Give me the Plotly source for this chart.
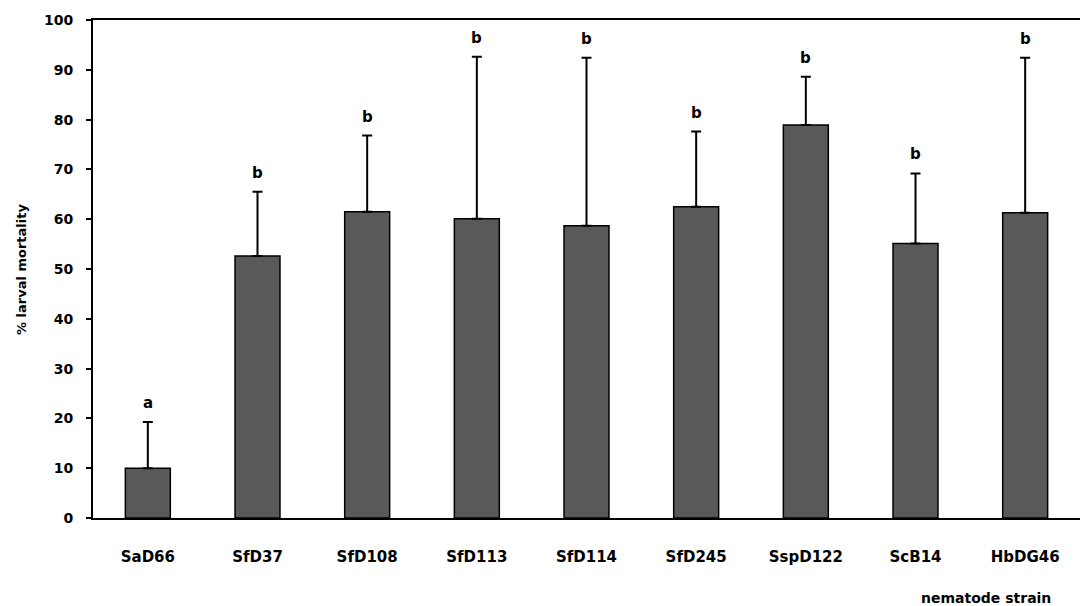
import plotly.graph_objects as go

# Larval mortality per nematode strain (mean and upper SD), with significance letters
strains = ["SaD66", "SfD37", "SfD108", "SfD113", "SfD114", "SfD245", "SspD122", "ScB14", "HbDG46"]
mortality = [10.0, 52.6, 61.5, 60.1, 58.7, 62.5, 78.9, 55.1, 61.3]
sd_upper = [9.3, 12.9, 15.3, 32.5, 33.7, 15.1, 9.7, 14.1, 31.1]
groups = ["a", "b", "b", "b", "b", "b", "b", "b", "b"]
y_ticks = [0, 10, 20, 30, 40, 50, 60, 70, 80, 90, 100]

FONT = "DejaVu Sans"

fig = go.Figure()
fig.add_trace(go.Bar(
    x=strains,
    y=mortality,
    marker=dict(color="#595959", line=dict(color="#000000", width=1.5)),
    error_y=dict(
        type="data",
        symmetric=False,
        array=sd_upper,
        arrayminus=[0] * len(sd_upper),
        color="#000000",
        thickness=2,
        width=5,
    ),
    width=0.41,
    showlegend=False,
))

# significance letters above each error bar
for s, m, e, g in zip(strains, mortality, sd_upper, groups):
    fig.add_annotation(
        x=s, y=m + e, text=g, showarrow=False,
        yanchor="middle", yshift=19,
        font=dict(family=FONT, size=15, color="#000000", weight="bold"),
    )

fig.add_annotation(
    text="% larval mortality", xref="paper", yref="paper",
    x=-0.073, y=0.5, xanchor="center", yanchor="middle",
    textangle=-90, showarrow=False,
    font=dict(family=FONT, size=13, color="#000000", weight="bold"),
)
fig.add_annotation(
    text="nematode strain", xref="paper", yref="paper",
    x=0.905, y=-0.16, xanchor="center", yanchor="middle",
    showarrow=False,
    font=dict(family=FONT, size=14, color="#000000", weight="bold"),
)

fig.update_layout(
    width=1080, height=606,
    margin=dict(l=93, r=0, t=20, b=88),
    paper_bgcolor="#ffffff", plot_bgcolor="#ffffff",
    font=dict(family=FONT, color="#000000"),
    xaxis=dict(
        showline=True, linecolor="#000000", linewidth=2, mirror=True,
        ticks="", showgrid=False,
        tickfont=dict(family=FONT, size=15, color="#000000", weight="bold"),
        ticklabelstandoff=24,
    ),
    yaxis=dict(
        range=[0, 100], tickvals=y_ticks,
        showline=True, linecolor="#000000", linewidth=2,
        ticks="outside", ticklen=5, tickwidth=2, tickcolor="#000000",
        showgrid=False, zeroline=False,
        tickfont=dict(family=FONT, size=14, color="#000000", weight="bold"),
        ticklabelstandoff=10,
    ),
)

fig.write_html("out.html")
